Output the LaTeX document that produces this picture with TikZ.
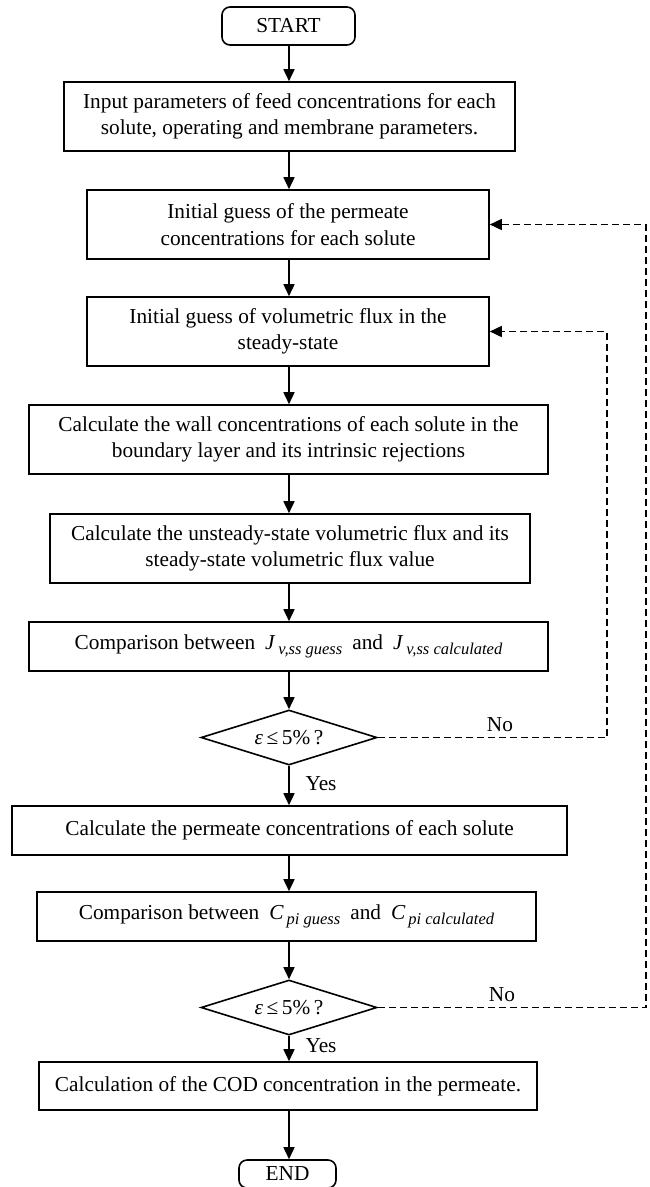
\documentclass[tikz,border=0pt]{standalone}
\usepackage{fontspec}
\setmainfont{Liberation Serif}
\usetikzlibrary{arrows.meta,shapes.geometric}
\newcommand{\mysub}[1]{\hspace{3pt}\raisebox{-5pt}{\fontsize{16.5}{16.5}\selectfont\itshape #1}}
\newcommand{\wsp}{\hspace{10pt}}
\begin{document}
\begin{tikzpicture}[x=1pt,y=-1pt,
  txt/.style={font=\fontsize{21.3}{26.5}\selectfont},
  box/.style={draw,line width=1.6pt,align=center,inner sep=0pt,txt},
  term/.style={box,rounded corners=8pt},
  dec/.style={draw,diamond,aspect=3.2,line width=1.6pt,inner sep=0pt,minimum width=176pt,minimum height=55pt,txt},
  flow/.style={line width=1.6pt,-{Triangle[length=12pt,width=11pt]}},
  back/.style={line width=1.6pt,dash pattern=on 7pt off 4pt,-{Triangle[length=12pt,width=11pt]}},
  lbl/.style={txt,inner sep=0pt}
]
\useasboundingbox (0,0) rectangle (650,1187);

\node[term,minimum width=133pt,minimum height=38pt] (start) at (288.5,26) {START};
\node[box,minimum width=451pt,minimum height=69pt] (b1) at (289.5,116.5) {Input parameters of feed concentrations for each\\solute, operating and membrane parameters.};
\node[box,minimum width=402pt,minimum height=69pt] (b2) at (288,224.5) {Initial guess of the permeate\\concentrations for each solute};
\node[box,minimum width=402pt,minimum height=69pt] (b3) at (288,331.5) {Initial guess of volumetric flux in the\\steady-state};
\node[box,minimum width=519pt,minimum height=69pt] (b4) at (288.5,439.5) {Calculate the wall concentrations of each solute in the\\boundary layer and its intrinsic rejections};
\node[box,minimum width=480pt,minimum height=69pt] (b5) at (290,548.5) {Calculate the unsteady-state volumetric flux and its\\steady-state volumetric flux value};
\node[box,minimum width=519pt,minimum height=49pt] (b6) at (288.5,646.5) {Comparison between\wsp\textit{J}\mysub{v,ss guess}\wsp and\wsp\textit{J}\mysub{v,ss calculated}};
\node[dec] (d1) at (289,737.5) {\textit{ε}\,≤\,5\%\,?};
\node[box,minimum width=555pt,minimum height=49pt] (b7) at (289.5,830.5) {Calculate the permeate concentrations of each solute};
\node[box,minimum width=499pt,minimum height=49pt] (b8) at (286.5,916.5) {Comparison between\wsp\textit{C}\mysub{pi guess}\wsp and\wsp\textit{C}\mysub{pi calculated}};
\node[dec] (d2) at (289,1007.5) {\textit{ε}\,≤\,5\%\,?};
\node[box,minimum width=498pt,minimum height=48pt] (b9) at (288,1086) {Calculation of the COD concentration in the permeate.};
\node[term,minimum width=97pt,minimum height=28pt] (end) at (287.5,1174) {END};

\node[lbl] (no1) at (500,725) {No};
\node[lbl] (no2) at (502,995) {No};
\node[lbl] (yes1) at (321,784) {Yes};
\node[lbl] (yes2) at (321,1046) {Yes};

\coordinate (r1) at (607,0);
\coordinate (r2) at (646,0);

\draw[flow] (start.south -| d1) -- (b1.north -| d1);
\draw[flow] (b1.south -| d1) -- (b2.north -| d1);
\draw[flow] (b2.south -| d1) -- (b3.north -| d1);
\draw[flow] (b3.south -| d1) -- (b4.north -| d1);
\draw[flow] (b4.south -| d1) -- (b5.north -| d1);
\draw[flow] (b5.south -| d1) -- (b6.north -| d1);
\draw[flow] (b6.south -| d1) -- (d1.north);
\draw[flow] (d1.south) -- (b7.north -| d1);
\draw[flow] (b7.south -| d1) -- (b8.north -| d1);
\draw[flow] (b8.south -| d1) -- (d2.north);
\draw[flow] (d2.south) -- (b9.north -| d2);
\draw[flow] (b9.south -| d2) -- (end.north -| d2);

\draw[back] (d1.east) -- (d1.east -| r1) -- (r1 |- b3.east) -- (b3.east);
\draw[back] (d2.east) -- (d2.east -| r2) -- (r2 |- b2.east) -- (b2.east);
\end{tikzpicture}
\end{document}
